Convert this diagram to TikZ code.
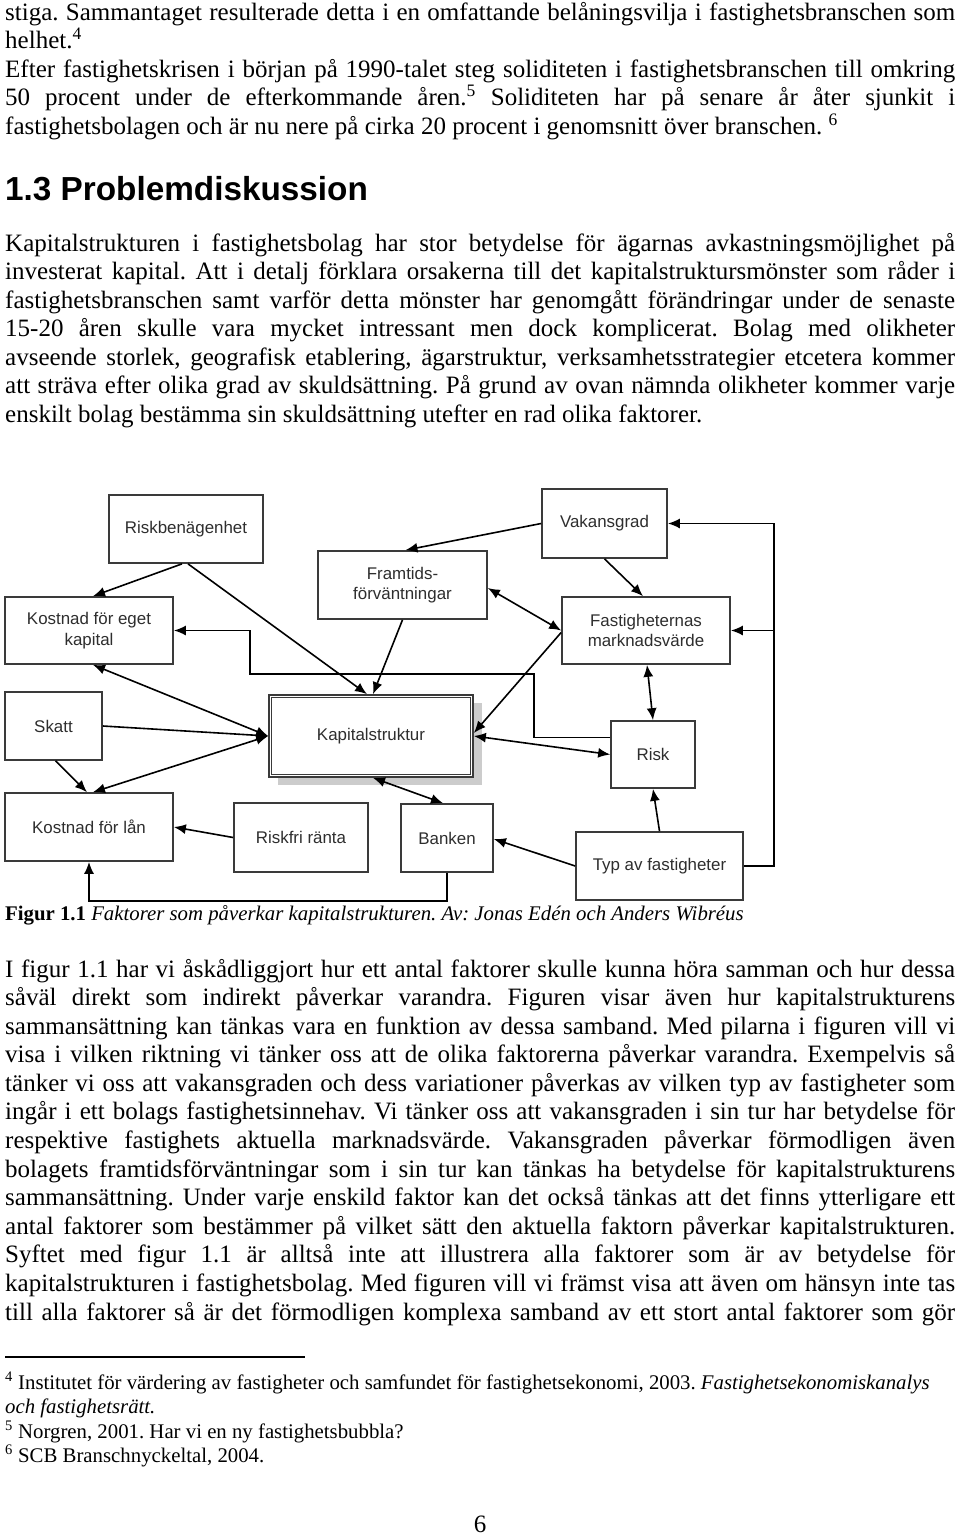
\documentclass[tikz,border=0pt]{standalone}
\usepackage{fontspec}
\setmainfont{Liberation Serif}
\newfontfamily\arialfont{Liberation Sans}
\usetikzlibrary{arrows.meta,calc,shadows}
\newcommand\bodysize{\fontsize{25pt}{28.6pt}\selectfont}
\newcommand\notesize{\fontsize{20.8pt}{24pt}\selectfont}
\definecolor{boxline}{HTML}{3A3A3A}
\definecolor{boxtext}{HTML}{2E2E2E}
\frenchspacing
\newcommand\justln[3]{\node[jline] (#1) at (5,-#2) {\makebox[950pt][s]{#3}};}
\newcommand\plainln[3]{\node[jline] (#1) at (5,-#2) {#3};}
\newcommand\noteln[3]{\node[nline] (#1) at (5,-#2) {#3};}
\begin{document}
\begin{tikzpicture}[x=1pt,y=1pt,
  jline/.style={anchor=base west,inner sep=0pt,font=\bodysize},
  nline/.style={anchor=base west,inner sep=0pt,font=\notesize},
  box/.style={draw=boxline,line width=1.7pt,fill=white,inner sep=0pt,align=center,
    font=\arialfont\fontsize{16.9pt}{20.5pt}\selectfont,text=boxtext},
  conn/.style={draw=black,line width=1.6pt,-{Latex[length=12pt,width=10pt,fill=black]}},
  bconn/.style={draw=black,line width=1.6pt,{Latex[length=12pt,width=10pt,fill=black]}-{Latex[length=12pt,width=10pt,fill=black]}}]
\useasboundingbox (0,0) rectangle (960,-1537);
\fill[white] (0,0) rectangle (960,-1537);

% ---- block 1
\justln{a1}{20}{stiga. Sammantaget resulterade detta i en omfattande belåningsvilja i fastighetsbranschen som}
\plainln{a2}{48.6}{helhet.\textsuperscript{4}}
\justln{a3}{77.2}{Efter fastighetskrisen i början på 1990-talet steg soliditeten i fastighetsbranschen till omkring}
\justln{a4}{105.8}{50 procent under de efterkommande åren.\textsuperscript{5} Soliditeten har på senare år åter sjunkit i}
\plainln{a5}{134.4}{fastighetsbolagen och är nu nere på cirka 20 procent i genomsnitt över branschen. \textsuperscript{6}}

% ---- heading
\node[anchor=base west,inner sep=0pt,font=\arialfont\bfseries\fontsize{33.3pt}{36pt}\selectfont] (head) at (5,-200) {1.3 Problemdiskussion};

% ---- block 2
\justln{b1}{251}{Kapitalstrukturen i fastighetsbolag har stor betydelse för ägarnas avkastningsmöjlighet på}
\justln{b2}{279.5}{investerat kapital. Att i detalj förklara orsakerna till det kapitalstruktursmönster som råder i}
\justln{b3}{308}{fastighetsbranschen samt varför detta mönster har genomgått förändringar under de senaste}
\justln{b4}{336.5}{15-20 åren skulle vara mycket intressant men dock komplicerat. Bolag med olikheter}
\justln{b5}{365}{avseende storlek, geografisk etablering, ägarstruktur, verksamhetsstrategier etcetera kommer}
\justln{b6}{393.5}{att sträva efter olika grad av skuldsättning. På grund av ovan nämnda olikheter kommer varje}
\plainln{b7}{422}{enskilt bolag bestämma sin skuldsättning utefter en rad olika faktorer.}

% ---- diagram boxes
\node[box,minimum width=154pt,minimum height=68pt] (rb) at (186,-529) {Riskbenägenhet};
\node[box,minimum width=125pt,minimum height=69pt] (vak) at (604.5,-523.5) {Vakansgrad};
\node[box,minimum width=169pt,minimum height=68pt] (fram) at (402.5,-585) {Framtids-\\förväntningar};
\node[box,minimum width=168pt,minimum height=67pt] (kek) at (89,-630.5) {Kostnad för eget\\kapital};
\node[box,minimum width=168pt,minimum height=67pt] (fast) at (646,-630.5) {Fastigheternas\\marknadsvärde};
\node[box,minimum width=97pt,minimum height=68pt] (skatt) at (53.5,-726) {Skatt};
\node[box,minimum width=204pt,minimum height=82pt,
  drop shadow={shadow xshift=9pt,shadow yshift=-8pt,fill=gray!40,opacity=1}] (kap) at (371,-736) {Kapitalstruktur};
\draw[boxline,line width=1.3pt] ($(kap.north west)+(3.5,-3.5)$) rectangle ($(kap.south east)+(-3.5,3.5)$);
\node[box,minimum width=84pt,minimum height=67pt] (risk) at (653,-754.5) {Risk};
\node[box,minimum width=168pt,minimum height=68pt] (kfl) at (89,-827) {Kostnad för lån};
\node[box,minimum width=134pt,minimum height=69pt] (rfr) at (301,-837.5) {Riskfri ränta};
\node[box,minimum width=92pt,minimum height=68pt] (ban) at (447,-838) {Banken};
\node[box,minimum width=167pt,minimum height=68pt] (typ) at (659.5,-866) {Typ av fastigheter};

% ---- connectors
\draw[conn] (vak.west) -- ($(fram.north)+(3,0)$);
\draw[conn] (vak.south) -- ($(fast.north)+(-3,0)$);
\draw[conn] ($(rb.south)+(2,0)$) -- ($(kap.north)+(-4,0)$);
\draw[conn] ($(rb.south)+(-4,0)$) -- ($(kek.north)+(4,0)$);
\draw[conn] (fram.south) -- ($(kap.north)+(2,0)$);
\draw[bconn] ($(fram.east)+(0,-3)$) -- (fast.west);
\draw[conn] ($(fast.west)+(0,-2)$) -- ($(kap.east)+(0,3)$);
\draw[bconn] ($(fast.south)+(1,0)$) -- (risk.north);
\draw[bconn] (kap.east) -- (risk.west);
\coordinate (kekin) at ($(kek.east)+(76,0)$);
\draw[conn] ($(risk.west)+(0,17)$) -- ++(-76,0) -- ++(0,63.5) -| (kekin) -- (kek.east);
\draw[conn] (typ.north) -- (risk.south);
\draw[conn] (typ.west) -- ($(ban.east)+(0,-1)$);
\coordinate (rt) at ($(typ.east)+(30,0)$);
\draw[conn] (typ.east) -- (rt) |- (vak.east);
\draw[conn] (fast.east -| rt) -- (fast.east);
\draw[bconn] ($(kap.south)+(2,0)$) -- ($(ban.north)+(-4,0)$);
\draw[bconn] ($(kek.south)+(4,0)$) -- (kap.west);
\draw[conn] (skatt.east) -- (kap.west);
\draw[bconn] (kap.west) -- ($(kfl.north)+(4,0)$);
\draw[conn] ($(skatt.south)+(2,0)$) -- ($(kfl.north)+(-2,0)$);
\draw[conn] (rfr.west) -- (kfl.east);
\draw[conn] (ban.south) -- ++(0,-28) -| (kfl.south);

% ---- caption
\node[anchor=base west,inner sep=0pt,font=\notesize] (cap) at (5,-920) {\textbf{Figur 1.1} \textit{Faktorer som påverkar kapitalstrukturen. Av: Jonas Edén och Anders Wibréus}};

% ---- block 3
\justln{c1}{977}{I figur 1.1 har vi åskådliggjort hur ett antal faktorer skulle kunna höra samman och hur dessa}
\justln{c2}{1005.6}{såväl direkt som indirekt påverkar varandra. Figuren visar även hur kapitalstrukturens}
\justln{c3}{1034.2}{sammansättning kan tänkas vara en funktion av dessa samband. Med pilarna i figuren vill vi}
\justln{c4}{1062.7}{visa i vilken riktning vi tänker oss att de olika faktorerna påverkar varandra. Exempelvis så}
\justln{c5}{1091.3}{tänker vi oss att vakansgraden och dess variationer påverkas av vilken typ av fastigheter som}
\justln{c6}{1119.9}{ingår i ett bolags fastighetsinnehav. Vi tänker oss att vakansgraden i sin tur har betydelse för}
\justln{c7}{1148.5}{respektive fastighets aktuella marknadsvärde. Vakansgraden påverkar förmodligen även}
\justln{c8}{1177.1}{bolagets framtidsförväntningar som i sin tur kan tänkas ha betydelse för kapitalstrukturens}
\justln{c9}{1205.6}{sammansättning. Under varje enskild faktor kan det också tänkas att det finns ytterligare ett}
\justln{c10}{1234.2}{antal faktorer som bestämmer på vilket sätt den aktuella faktorn påverkar kapitalstrukturen.}
\justln{c11}{1262.8}{Syftet med figur 1.1 är alltså inte att illustrera alla faktorer som är av betydelse för}
\justln{c12}{1291.4}{kapitalstrukturen i fastighetsbolag. Med figuren vill vi främst visa att även om hänsyn inte tas}
\justln{c13}{1320}{till alla faktorer så är det förmodligen komplexa samband av ett stort antal faktorer som gör}

% ---- footnotes
\draw[line width=1.3pt] (5,-1357) -- (305,-1357);
\noteln{f1}{1389}{\textsuperscript{4} Institutet för värdering av fastigheter och samfundet för fastighetsekonomi, 2003. \textit{Fastighetsekonomiskanalys}}
\noteln{f2}{1413.5}{\textit{och fastighetsrätt.}}
\noteln{f3}{1438}{\textsuperscript{5} Norgren, 2001. Har vi en ny fastighetsbubbla?}
\noteln{f4}{1462}{\textsuperscript{6} SCB Branschnyckeltal, 2004.}

% ---- page number
\node[anchor=base,inner sep=0pt,font=\bodysize] (pg) at (480,-1532) {6};
\end{tikzpicture}
\end{document}
